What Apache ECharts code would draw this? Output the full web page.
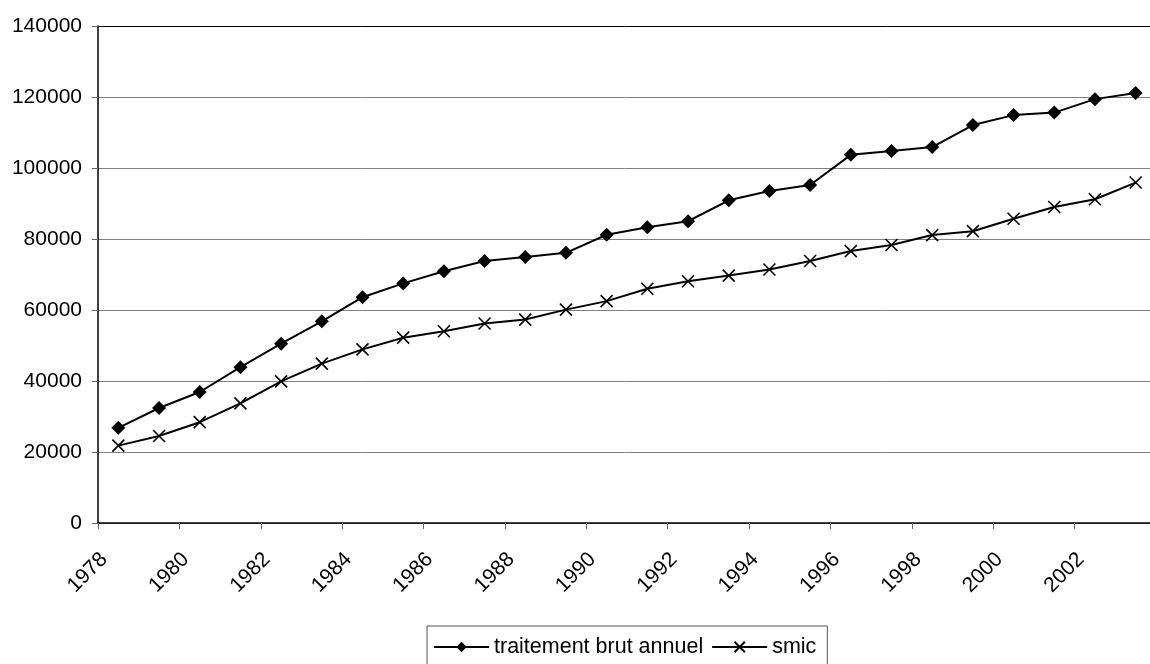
<!DOCTYPE html>
<html>
<head>
<meta charset="utf-8">
<script src="https://cdn.jsdelivr.net/npm/echarts@6/dist/echarts.min.js"></script>
<style>
  html, body { margin: 0; padding: 0; background: #fff; }
  #chart { width: 1150px; height: 664px; }
</style>
</head>
<body>
<div id="chart"></div>
<script>
// Annual gross salary vs. minimum wage (smic), 1978–2003
const years = ['1978','1979','1980','1981','1982','1983','1984','1985','1986','1987','1988','1989','1990',
               '1991','1992','1993','1994','1995','1996','1997','1998','1999','2000','2001','2002','2003'];
const traitement = [26800, 32400, 36900, 43900, 50500, 56800, 63600, 67500, 70900, 73800, 74900, 76100, 81200,
                    83300, 85000, 90900, 93500, 95200, 103700, 104800, 105900, 112100, 114900, 115600, 119400, 121100];
const smic = [21800, 24500, 28400, 33700, 39900, 44900, 48900, 52200, 54000, 56200, 57300, 60100, 62500,
              66000, 68100, 69700, 71400, 73800, 76600, 78300, 81100, 82200, 85700, 89000, 91200, 95900];
const seriesNames = ['traitement brut annuel', 'smic'];

const FONT = 'Liberation Sans, Arial, sans-serif';
const crossPath = 'path://M0,0L10,10M10,0L0,10';

const chart = echarts.init(document.getElementById('chart'), null, { renderer: 'canvas' });
chart.setOption({
  animation: false,
  backgroundColor: '#fff',
  textStyle: { fontFamily: FONT },
  grid: { left: 98, top: 26, right: -6, bottom: 141, containLabel: false, outerBoundsMode: 'none' },
  legend: {
    data: seriesNames,
    left: 427,
    top: 626,
    orient: 'horizontal',
    padding: [10, 11, 10, 6],
    itemWidth: 55,
    itemHeight: 13,
    itemGap: 8,
    borderColor: '#555',
    borderWidth: 1,
    textStyle: { fontSize: 21.5, color: '#000', fontFamily: FONT }
  },
  xAxis: {
    type: 'category',
    data: years,
    boundaryGap: true,
    axisLine: { show: true, lineStyle: { color: '#000', width: 1.5 } },
    axisTick: { show: true, interval: 1, length: 6, lineStyle: { color: '#666' } },
    axisLabel: {
      interval: 1,
      rotate: 45,
      margin: 19,
      padding: [0, 20, 0, 0],
      fontSize: 21,
      color: '#000',
      fontFamily: FONT
    },
    splitLine: { show: false }
  },
  yAxis: {
    type: 'value',
    min: 0,
    max: 140000,
    interval: 20000,
    axisLine: { show: true, lineStyle: { color: '#000', width: 1.5 } },
    axisTick: { show: true, length: 6, lineStyle: { color: '#666' } },
    axisLabel: {
      margin: 16,
      fontSize: 21,
      color: '#000',
      fontFamily: FONT,
      formatter: (v) => String(v)
    },
    splitLine: {
      show: true,
      lineStyle: {
        width: 1,
        color: ['#808080', '#808080', '#808080', '#808080', '#808080', '#808080', '#808080', '#000']
      }
    }
  },
  series: [
    {
      name: seriesNames[0],
      type: 'line',
      data: traitement,
      symbol: 'diamond',
      symbolSize: 14,
      showAllSymbol: true,
      color: '#000',
      lineStyle: { color: '#000', width: 2 },
      itemStyle: { color: '#000', borderColor: '#000', borderWidth: 0 }
    },
    {
      name: seriesNames[1],
      type: 'line',
      data: smic,
      symbol: crossPath,
      symbolSize: 12,
      showAllSymbol: true,
      color: '#000',
      lineStyle: { color: '#000', width: 2 },
      itemStyle: { color: '#000', borderColor: '#000', borderWidth: 1.6 }
    }
  ]
});
</script>
</body>
</html>
